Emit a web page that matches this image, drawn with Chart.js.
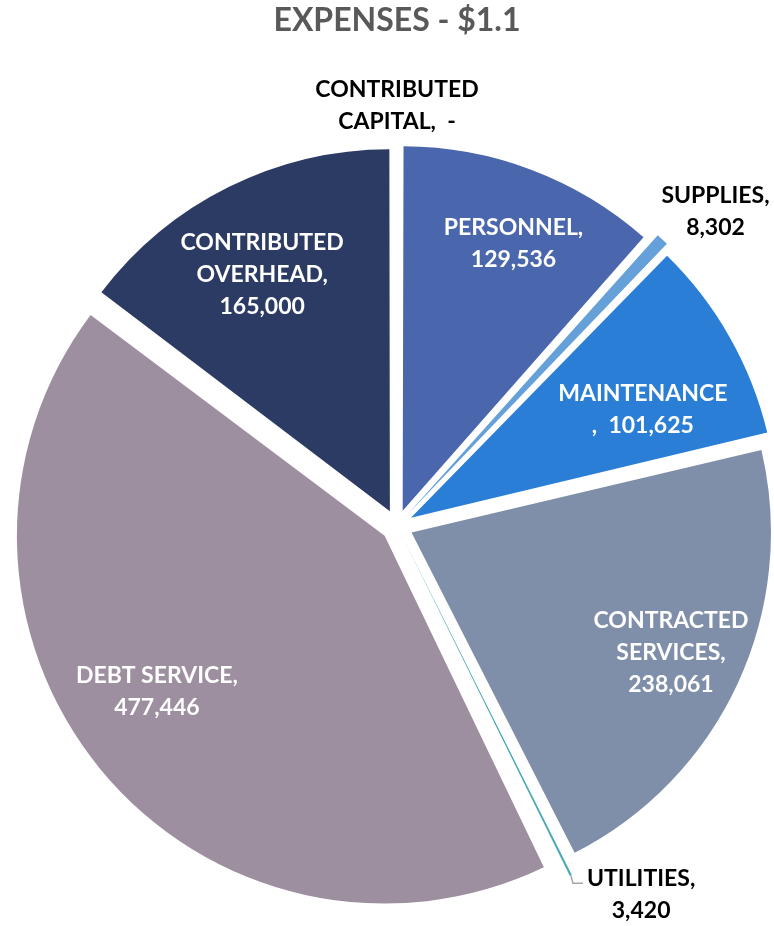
<!DOCTYPE html>
<html>
<head>
<meta charset="utf-8">
<title>Expenses</title>
<script src="https://cdn.jsdelivr.net/npm/chart.js@4.4.1/dist/chart.umd.min.js"></script>
<style>
  html, body { margin: 0; padding: 0; background: #fff; }
  #wrap { width: 774px; height: 926px; }
</style>
</head>
<body>
<div id="wrap"><canvas id="expenses" width="774" height="926"></canvas></div>
<script>
// --- data ---
const categories = [
  "CONTRIBUTED\nCAPITAL",
  "PERSONNEL",
  "SUPPLIES",
  "MAINTENANCE\n",
  "CONTRACTED\nSERVICES",
  "UTILITIES",
  "DEBT SERVICE",
  "CONTRIBUTED\nOVERHEAD",
];
const amounts = [0, 129536, 8302, 101625, 238061, 3420, 477446, 165000];
const sliceColors = [
  "#8c8c8c", "#4a66ad", "#65a0d8", "#2a7ed6",
  "#7f8ea9", "#48a8b4", "#9d8f9f", "#2c3b63",
];
const chartTitle = "EXPENSES - $1.1";

// label placement: angle nudge from slice middle (deg), distance from centre (px)
const labelSpots = [
  { turn: 0,    dist: 420, color: "#000", sep: "  " },
  { turn: 1.7,  dist: 305, color: "#fff", sep: "\n" },
  { turn: 2.6,  dist: 447, color: "#000", sep: "\n" },
  { turn: 4.2,  dist: 272, color: "#fff", sep: "  " },
  { turn: 0,    dist: 302, color: "#fff", sep: "\n" },
  { turn: -7.1, dist: 442, color: "#000", sep: "\n", leader: true },
  { turn: 4.7,  dist: 292, color: "#fff", sep: "\n" },
  { turn: -1.8, dist: 285, color: "#fff", sep: "\n" },
];

const fmtAmount = (v) => (v === 0 ? "-" : v.toLocaleString("en-US"));

Chart.defaults.font.family = "Lato, 'Open Sans', sans-serif";

const sliceLabels = {
  id: "sliceLabels",
  afterDatasetsDraw(chart) {
    const ctx = chart.ctx;
    const arcs = chart.getDatasetMeta(0).data;
    ctx.save();
    ctx.font = "bold 23px Lato";
    ctx.textAlign = "center";
    ctx.textBaseline = "middle";
    arcs.forEach((arc, i) => {
      const spot = labelSpots[i];
      const { x, y, startAngle, endAngle, outerRadius } = arc.getProps(
        ["x", "y", "startAngle", "endAngle", "outerRadius"], true);
      const mid = (startAngle + endAngle) / 2;
      const ang = mid + (spot.turn * Math.PI) / 180;
      const cx = x + Math.cos(ang) * spot.dist;
      const cy = y + Math.sin(ang) * spot.dist;
      const text = categories[i] + "," + spot.sep + fmtAmount(amounts[i]);
      const lines = text.split("\n");
      const lh = 32;
      const top = cy - ((lines.length - 1) * lh) / 2;

      if (spot.leader) {
        // thin elbow line from the slice edge to the label
        const shift = (arc.options.offset || 0) / 2;
        const r = outerRadius + shift;
        const sx = x + Math.cos(mid) * r;
        const sy = y + Math.sin(mid) * r;
        const w = ctx.measureText(lines[0]).width;
        const ex = cx - w / 2 - 4;
        const ey = top + 5;
        ctx.strokeStyle = "#a6a6a6";
        ctx.lineWidth = 1.5;
        ctx.beginPath();
        ctx.moveTo(sx, sy);
        ctx.lineTo(ex - 10, ey);
        ctx.lineTo(ex, ey);
        ctx.stroke();
      }

      ctx.fillStyle = spot.color;
      lines.forEach((ln, k) => ctx.fillText(ln, cx, top + k * lh));
    });
    ctx.restore();
  },
};

new Chart(document.getElementById("expenses"), {
  type: "pie",
  data: {
    labels: categories.map((c) => c.replace("\n", " ").trim()),
    datasets: [{
      data: amounts,
      backgroundColor: sliceColors,
      borderWidth: 0,
      offset: 64,
      hoverOffset: 64,
    }],
  },
  options: {
    responsive: false,
    animation: false,
    radius: 359,
    layout: { padding: { left: 20, right: 0, top: 0, bottom: 28 } },
    plugins: {
      legend: { display: false },
      tooltip: { enabled: false },
      title: {
        display: true,
        text: chartTitle,
        color: "#595959",
        font: { size: 32, weight: "bold" },
        padding: { top: 1, bottom: 114 },
      },
    },
  },
  plugins: [sliceLabels],
});
</script>
</body>
</html>
